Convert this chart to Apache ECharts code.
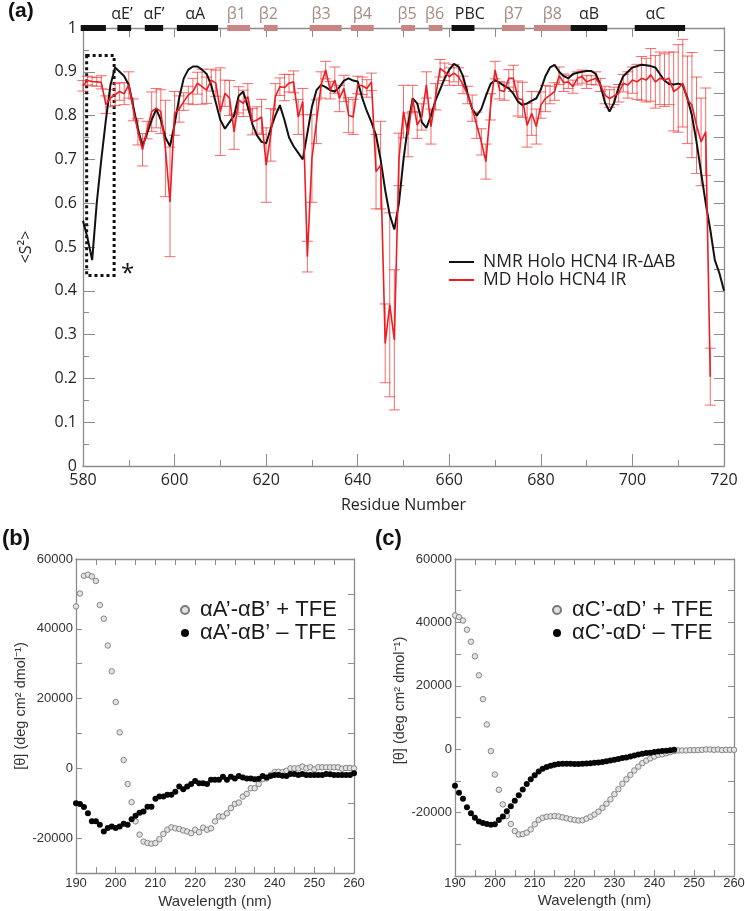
<!DOCTYPE html>
<html><head><meta charset="utf-8">
<script src="https://cdn.jsdelivr.net/npm/echarts@6/dist/echarts.min.js"></script>
<style>html,body{margin:0;padding:0;background:#fff}#c{width:745px;height:911px}</style>
</head><body><div id="c"></div><script>
// ---------- Panel (a) data ----------
const nmrStart = 580;
const nmrS2 = [
 0.56,0.52,0.47,0.60,0.70,0.79,0.87,0.91,0.90,0.89,
 0.87,0.82,0.77,0.73,0.76,0.79,0.815,0.79,0.75,0.73,
 0.78,0.84,0.885,0.905,0.912,0.912,0.905,0.895,0.87,0.83,
 0.79,0.77,0.785,0.80,0.845,0.855,0.82,0.78,0.755,0.74,
 0.737,0.77,0.80,0.824,0.79,0.75,0.73,0.715,0.70,0.76,
 0.82,0.858,0.87,0.865,0.858,0.855,0.865,0.88,0.885,0.88,
 0.878,0.84,0.81,0.785,0.755,0.70,0.63,0.573,0.54,0.60,
 0.70,0.78,0.839,0.828,0.785,0.772,0.80,0.835,0.86,0.885,
 0.905,0.918,0.912,0.89,0.85,0.815,0.80,0.815,0.845,0.872,
 0.881,0.875,0.868,0.862,0.85,0.832,0.824,0.828,0.834,0.839,
 0.86,0.89,0.91,0.916,0.90,0.89,0.885,0.895,0.898,0.90,
 0.902,0.902,0.895,0.87,0.83,0.809,0.83,0.865,0.89,0.90,
 0.91,0.913,0.916,0.915,0.913,0.91,0.895,0.88,0.872,0.871,
 0.873,0.87,0.84,0.80,0.74,0.67,0.60,0.54,0.47,0.44,
 0.40
];
const mdStart = 580;
const mdS2 = [
 0.868,0.880,0.878,0.877,0.876,0.825,0.840,0.848,0.855,0.850,
 0.870,0.813,0.763,0.722,0.767,0.809,0.817,0.809,0.725,0.603,
 0.805,0.815,0.832,0.847,0.855,0.874,0.866,0.858,0.881,0.874,
 0.809,0.851,0.840,0.763,0.836,0.828,0.843,0.786,0.790,0.797,
 0.687,0.756,0.843,0.866,0.864,0.874,0.877,0.797,0.832,0.478,
 0.702,0.786,0.870,0.904,0.858,0.881,0.839,0.862,0.801,0.797,
 0.870,0.868,0.862,0.877,0.672,0.687,0.280,0.368,0.288,0.700,
 0.809,0.756,0.839,0.778,0.797,0.870,0.775,0.843,0.908,0.900,
 0.889,0.897,0.889,0.870,0.847,0.817,0.778,0.740,0.695,0.820,
 0.904,0.858,0.855,0.885,0.885,0.839,0.836,0.778,0.805,0.775,
 0.824,0.839,0.847,0.855,0.891,0.875,0.877,0.866,0.885,0.889,
 0.877,0.881,0.885,0.870,0.847,0.839,0.845,0.851,0.874,0.870,
 0.881,0.877,0.885,0.881,0.893,0.877,0.885,0.881,0.885,0.855,
 0.862,0.874,0.836,0.824,0.778,0.740,0.763,0.204
];
const mdErr = [
 0.012,0.010,0.010,0.010,0.015,0.020,0.020,0.025,0.020,0.025,
 0.030,0.025,0.030,0.037,0.020,0.045,0.045,0.050,0.110,0.125,
 0.050,0.030,0.020,0.020,0.030,0.025,0.040,0.030,0.025,0.030,
 0.100,0.030,0.040,0.040,0.030,0.030,0.030,0.030,0.030,0.040,
 0.085,0.060,0.030,0.020,0.030,0.020,0.025,0.040,0.030,0.035,
 0.100,0.050,0.030,0.020,0.020,0.030,0.030,0.030,0.040,0.040,
 0.020,0.020,0.020,0.020,0.085,0.100,0.090,0.210,0.160,0.060,
 0.060,0.050,0.030,0.030,0.030,0.030,0.040,0.030,0.020,0.020,
 0.020,0.020,0.020,0.020,0.020,0.030,0.030,0.030,0.040,0.030,
 0.020,0.020,0.020,0.020,0.030,0.040,0.040,0.050,0.050,0.040,
 0.030,0.030,0.020,0.020,0.020,0.020,0.015,0.015,0.015,0.015,
 0.015,0.010,0.015,0.015,0.020,0.020,0.020,0.020,0.020,0.030,
 0.030,0.040,0.050,0.050,0.060,0.060,0.060,0.060,0.060,0.090,
 0.100,0.100,0.100,0.120,0.110,0.100,0.100,0.065
];
// secondary structure elements
const ssStart = [579.5,587.5,593.5,600.5,611.5,619.5,629.5,638.5,649.5,655.5,660.5,671.5,678.5,686.5,700.5];
const ssEnd   = [585,590.5,597.5,609.5,616.5,622.5,636.5,643.5,652.5,658.5,665.5,676.5,686.5,694.5,711.5];
const ssType  = [0,0,0,0,1,1,1,1,1,1,0,1,1,0,0];
const ssLabel = ['','αE’','αF’','αA','β1','β2','β3','β4','β5','β6','PBC','β7','β8','αB','αC'];
const ssLabelPos = [null,588.5,595.5,604.5,613.5,620.5,632,641,650.8,656.8,664.5,674,682.5,690.5,705];

// ---------- Panel (b) / (c) data ----------
const cdStart = 190;
const bPlus = [
 46400,50100,55200,55500,55000,53700,46800,42900,35200,27800,
 19000,10300,2400,-4500,-9700,-15200,-19000,-21000,-21400,-21600,
 -21400,-20300,-18800,-17600,-16900,-17200,-17400,-17800,-18100,-18600,
 -17600,-18300,-17000,-17600,-17200,-15200,-13800,-13800,-12900,-11400,
 -10200,-9800,-8100,-7300,-5700,-5700,-4500,-3100,-2900,-1900,
 -1100,-1000,-1100,-700,0,0,0,500,0,300,
 -300,300,300,300,300,300,300,-100,100,100,
 0
];
const bMinus = [
 -10000,-10200,-11100,-12900,-15200,-15200,-16200,-18100,-17100,-16700,
 -17100,-16700,-15900,-16200,-14600,-13600,-12700,-12400,-11000,-11000,
 -8700,-8100,-8100,-7600,-7600,-6700,-5200,-6000,-5200,-4500,
 -3600,-4300,-4300,-4500,-3300,-3300,-3300,-2400,-3300,-2400,
 -2900,-2200,-2600,-2900,-2900,-3100,-3000,-2200,-2600,-2200,
 -1900,-1900,-2100,-2200,-1600,-1600,-1900,-1600,-1900,-1900,
 -1900,-1900,-1900,-1600,-1700,-1900,-1900,-1900,-1900,-1900,
 -1400
];
const cPlus = [
 42200,41700,40600,37700,33900,29300,23300,15800,7800,-600,
 -8000,-12800,-17400,-21100,-23600,-25800,-26900,-26800,-26300,-25300,
 -23700,-22300,-21600,-21300,-21200,-21100,-21200,-21500,-21800,-22100,
 -22300,-22500,-22400,-21900,-21300,-20600,-19700,-18500,-17200,-15800,
 -14200,-12600,-10900,-9500,-8100,-6700,-5500,-4400,-3600,-2900,
 -2300,-1800,-1600,-1300,-900,-600,-400,-400,-400,-300,
 -300,-300,-200,-100,-100,-200,-100,-300,-200,-200,
 -200
];
const cMinus = [
 -11500,-13700,-15600,-18300,-20200,-21600,-22800,-23300,-23600,-23800,
 -23700,-22300,-21200,-19600,-18000,-16300,-14500,-12700,-11000,-9500,
 -8200,-7000,-6200,-5600,-5200,-4900,-4700,-4600,-4600,-4600,
 -4700,-4700,-4600,-4500,-4400,-4300,-4200,-4000,-3800,-3600,
 -3300,-3100,-2800,-2600,-2300,-2000,-1700,-1400,-1200,-1100,
 -900,-700,-600,-500,-300,-200
];
const nameNMR = 'NMR Holo HCN4 IR-ΔAB';
const nameMD = 'MD Holo HCN4 IR';
const nameBp = 'αA’-αB’ + TFE';
const nameBm = 'αA’-αB’ – TFE';
const nameCp = 'αC’-αD’ + TFE';
const nameCm = 'αC’-αD‘ – TFE';

// ---------- build ----------
const pairs = (start, arr) => arr.map((v, i) => [start + i, v]);
const mdErrData = mdS2.map((v, i) => [mdStart + i, v, mdErr[i]]);
const ssBars = ssStart.map((s, i) => [s, ssEnd[i], ssType[i]]);
const ssLabels = ssLabelPos.map((p, i) => [p, i]).filter(d => d[0] !== null);

const FA = 'Open Sans';
const FB = 'Liberation Sans, Arial, sans-serif';
const AX = '#8c8c8c';
const TXT = '#231f20';
const ROSE = '#c98583';
const ROSE_T = '#a58b82';
const RED = '#ee1d24';
const ERR = 'rgba(240,70,70,0.8)';

function axA(extra) {
  return Object.assign({
    axisLine: {show: true, onZero: false, lineStyle: {color: AX, width: 1.3}},
    splitLine: {show: false}
  }, extra);
}

const chart = echarts.init(document.getElementById('c'), null, {renderer: 'canvas'});
const option = {
  animation: false,
  backgroundColor: '#fff',
  grid: [
    {left: 83, top: 28, width: 641, height: 438, outerBoundsMode: 'none'},
    {left: 76, top: 559, width: 278, height: 314, outerBoundsMode: 'none'},
    {left: 455, top: 559, width: 279, height: 317, outerBoundsMode: 'none'}
  ],
  xAxis: [
    axA({gridIndex: 0, type: 'value', min: 580, max: 720, interval: 20, position: 'bottom',
      axisTick: {inside: true, length: 12, lineStyle: {color: AX}},
      minorTick: {show: true, splitNumber: 2, length: 6, lineStyle: {color: AX}},
      axisLabel: {fontFamily: FA, fontSize: 16, color: TXT, margin: 6},
      name: 'Residue Number', nameLocation: 'middle', nameGap: 31,
      nameTextStyle: {fontFamily: FA, fontSize: 16, color: TXT}}),
    axA({gridIndex: 0, type: 'value', min: 580, max: 720, interval: 10, position: 'top',
      axisTick: {inside: true, length: 9, lineStyle: {color: AX}}, axisLabel: {show: false}}),
    axA({gridIndex: 1, type: 'value', min: 190, max: 260, interval: 5, position: 'bottom',
      axisTick: {inside: true, length: 6, lineStyle: {color: AX}},
      axisLabel: {fontFamily: FB, fontSize: 13, color: '#333', margin: 4,
        formatter: v => (v % 10 === 0 ? String(v) : '')},
      name: 'Wavelength (nm)', nameLocation: 'middle', nameGap: 21,
      nameTextStyle: {fontFamily: FB, fontSize: 15, color: '#333'}}),
    axA({gridIndex: 1, type: 'value', min: 190, max: 260, interval: 5, position: 'top',
      axisTick: {inside: true, length: 6, lineStyle: {color: AX}}, axisLabel: {show: false}}),
    axA({gridIndex: 2, type: 'value', min: 190, max: 260, interval: 5, position: 'bottom',
      axisTick: {inside: true, length: 6, lineStyle: {color: AX}},
      axisLabel: {fontFamily: FB, fontSize: 13, color: '#333', margin: 1,
        formatter: v => (v % 10 === 0 ? String(v) : '')},
      name: 'Wavelength (nm)', nameLocation: 'middle', nameGap: 17,
      nameTextStyle: {fontFamily: FB, fontSize: 15, color: '#333'}}),
    axA({gridIndex: 2, type: 'value', min: 190, max: 260, interval: 5, position: 'top',
      axisTick: {inside: true, length: 6, lineStyle: {color: AX}}, axisLabel: {show: false}})
  ],
  yAxis: [
    axA({gridIndex: 0, type: 'value', min: 0, max: 1, interval: 0.1, position: 'left',
      axisTick: {inside: true, length: 12, lineStyle: {color: AX}},
      minorTick: {show: true, splitNumber: 2, length: 6, lineStyle: {color: AX}},
      axisLabel: {fontFamily: FA, fontSize: 16, color: TXT, margin: 6},
      name: '<S²>', nameLocation: 'middle', nameGap: 49, nameRotate: 90,
      nameTextStyle: {fontFamily: FA, fontSize: 16, color: TXT}}),
    axA({gridIndex: 0, type: 'value', min: 0, max: 1, interval: 0.05, position: 'right',
      axisTick: {inside: true, length: 10, lineStyle: {color: AX}}, axisLabel: {show: false}}),
    axA({gridIndex: 1, type: 'value', min: -30000, max: 60000, interval: 10000, position: 'left',
      axisTick: {inside: true, length: 6, lineStyle: {color: AX}},
      axisLabel: {fontFamily: FB, fontSize: 13, color: '#333', margin: 3,
        formatter: v => (v % 20000 === 0 ? String(v) : '')},
      name: '[θ] (deg cm² dmol⁻¹)', nameLocation: 'middle', nameGap: 46, nameRotate: 90,
      nameTextStyle: {fontFamily: FB, fontSize: 14.5, color: '#333', padding: [0, 0, 0, 20]}}),
    axA({gridIndex: 1, type: 'value', min: -30000, max: 60000, interval: 10000, position: 'right',
      axisTick: {inside: true, length: 6, lineStyle: {color: AX}}, axisLabel: {show: false}}),
    axA({gridIndex: 2, type: 'value', min: -40000, max: 60000, interval: 10000, position: 'left',
      axisTick: {inside: true, length: 6, lineStyle: {color: AX}},
      axisLabel: {fontFamily: FB, fontSize: 13, color: '#333', margin: 3,
        formatter: v => (v % 20000 === 0 && v > -40000 ? String(v) : '')},
      name: '[θ] (deg cm² dmol⁻¹)', nameLocation: 'middle', nameGap: 46, nameRotate: 90,
      nameTextStyle: {fontFamily: FB, fontSize: 14.5, color: '#333', padding: [0, 0, 0, 34]}}),
    axA({gridIndex: 2, type: 'value', min: -40000, max: 60000, interval: 10000, position: 'right',
      axisTick: {inside: true, length: 6, lineStyle: {color: AX}}, axisLabel: {show: false}})
  ],
  legend: [
    {data: [nameNMR, nameMD], orient: 'vertical', left: 444, top: 248, itemWidth: 25, itemHeight: 2,
      icon: 'rect', itemGap: 0, textStyle: {fontFamily: FA, fontSize: 17.5, color: TXT, padding: [0, 0, 0, 4]}},
    {data: [nameBp, nameBm], orient: 'vertical', left: 175, top: 594, itemWidth: 20, itemHeight: 8,
      itemGap: 1, textStyle: {fontFamily: FB, fontSize: 22, color: '#1a1a1a'}},
    {data: [nameCp, nameCm], orient: 'vertical', left: 547, top: 594, itemWidth: 20, itemHeight: 8,
      itemGap: 1, textStyle: {fontFamily: FB, fontSize: 22, color: '#1a1a1a'}}
  ],
  series: [
    {type: 'custom', name: 'mdErr', xAxisIndex: 0, yAxisIndex: 0, z: 2, silent: true,
      data: mdErrData, encode: {x: 0, y: 1},
      renderItem: function (params, api) {
        const x = api.value(0), m = api.value(1), e = api.value(2);
        const t = api.coord([x, m + e]), b = api.coord([x, m - e]);
        const hw = 5.5, st = {stroke: ERR, lineWidth: 1};
        return {type: 'group', children: [
          {type: 'line', shape: {x1: t[0], y1: t[1], x2: b[0], y2: b[1]}, style: st},
          {type: 'line', shape: {x1: t[0] - hw, y1: t[1], x2: t[0] + hw, y2: t[1]}, style: st},
          {type: 'line', shape: {x1: b[0] - hw, y1: b[1], x2: b[0] + hw, y2: b[1]}, style: st}
        ]};
      }},
    {type: 'line', name: nameNMR, xAxisIndex: 0, yAxisIndex: 0, z: 3, data: pairs(nmrStart, nmrS2),
      symbol: 'none', color: '#111', lineStyle: {color: '#111', width: 2},
      markArea: {silent: true, itemStyle: {color: 'rgba(0,0,0,0)', borderColor: '#111', borderWidth: 3, borderType: [3, 3]},
        data: [[{xAxis: 580.8, yAxis: 0.937}, {xAxis: 586.8, yAxis: 0.435}]]}},
    {type: 'line', name: nameMD, xAxisIndex: 0, yAxisIndex: 0, z: 4, data: pairs(mdStart, mdS2),
      symbol: 'none', color: RED, lineStyle: {color: RED, width: 1.6}},
    {type: 'custom', name: 'ss', xAxisIndex: 0, yAxisIndex: 0, z: 6, silent: true, clip: false,
      data: ssBars, encode: {x: [0, 1]},
      renderItem: function (params, api) {
        const s = api.coord([api.value(0), 1]), e = api.coord([api.value(1), 1]);
        return {type: 'rect', shape: {x: s[0], y: s[1] - 3, width: e[0] - s[0], height: 6},
          style: {fill: api.value(2) ? ROSE : '#111'}};
      }},
    {type: 'custom', name: 'ssLab', xAxisIndex: 0, yAxisIndex: 0, z: 6, silent: true, clip: false,
      data: ssLabels, encode: {x: 0},
      renderItem: function (params, api) {
        const i = api.value(1);
        const c = api.coord([api.value(0), 1]);
        return {type: 'text', x: c[0], y: c[1] - 14,
          style: {text: ssLabel[i], fill: ssType[i] ? ROSE_T : TXT, font: '16px "Open Sans"',
            align: 'center', verticalAlign: 'middle'}};
      }},
    {type: 'scatter', name: nameBp, xAxisIndex: 2, yAxisIndex: 2, data: pairs(cdStart, bPlus),
      symbol: 'circle', symbolSize: 5.5, itemStyle: {color: '#e2e2e2', borderColor: '#7a7a7a', borderWidth: 0.9, opacity: 1}},
    {type: 'scatter', name: nameBm, xAxisIndex: 2, yAxisIndex: 2, data: pairs(cdStart, bMinus),
      symbol: 'circle', symbolSize: 6, itemStyle: {color: '#050505', opacity: 1}},
    {type: 'scatter', name: nameCp, xAxisIndex: 4, yAxisIndex: 4, data: pairs(cdStart, cPlus),
      symbol: 'circle', symbolSize: 5.5, itemStyle: {color: '#e2e2e2', borderColor: '#7a7a7a', borderWidth: 0.9, opacity: 1}},
    {type: 'scatter', name: nameCm, xAxisIndex: 4, yAxisIndex: 4, data: pairs(cdStart, cMinus),
      symbol: 'circle', symbolSize: 6, itemStyle: {color: '#050505', opacity: 1}}
  ],
  graphic: [
    {type: 'text', left: 8, top: 1, style: {text: '(a)', font: 'bold 21px "Liberation Sans", Arial', fill: '#111'}},
    {type: 'text', left: 2, top: 528, style: {text: '(b)', font: 'bold 22px "Liberation Sans", Arial', fill: '#111'}},
    {type: 'text', left: 375, top: 528, style: {text: '(c)', font: 'bold 22px "Liberation Sans", Arial', fill: '#111'}},
    {type: 'text', left: 121, top: 262, style: {text: '*', font: '24px "Open Sans"', fill: '#111'}}
  ]
};
chart.setOption(option);
</script></body></html>
